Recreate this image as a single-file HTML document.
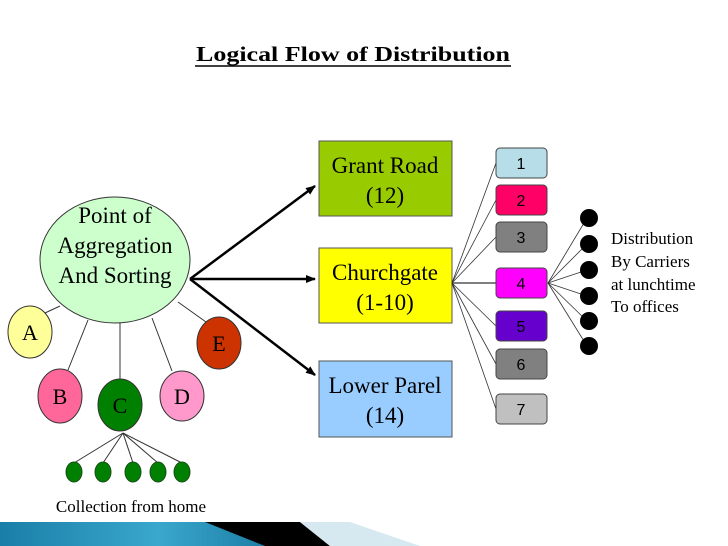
<!DOCTYPE html>
<html><head><style>body{margin:0;background:#fff}svg{display:block}</style></head><body>
<svg width="728" height="546" xmlns="http://www.w3.org/2000/svg" font-family="Liberation Serif, serif">
<defs>
<linearGradient id="bl" x1="0" x2="1"><stop offset="0" stop-color="#1a7fa8"/><stop offset="0.6" stop-color="#3aa7cc"/><stop offset="1" stop-color="#1d7fa6"/></linearGradient>
<marker id="ar" markerWidth="10" markerHeight="8" refX="9" refY="4" orient="auto" markerUnits="userSpaceOnUse"><path d="M0,0 L10,4 L0,8 Z" fill="#000"/></marker>
</defs>
<text x="196" y="61" font-size="21" font-weight="bold" textLength="314" lengthAdjust="spacingAndGlyphs">Logical Flow of Distribution</text>
<line x1="195" y1="66" x2="511" y2="66" stroke="#000" stroke-width="1.5"/>
<g stroke="#333" stroke-width="1">
<line x1="60" y1="306" x2="45" y2="313"/>
<line x1="88" y1="320" x2="68" y2="370"/>
<line x1="120" y1="323" x2="120" y2="379"/>
<line x1="152" y1="318" x2="172" y2="371"/>
<line x1="178" y1="302" x2="206" y2="322"/>
<line x1="123" y1="433" x2="74" y2="463"/>
<line x1="123" y1="433" x2="103" y2="463"/>
<line x1="123" y1="433" x2="133" y2="463"/>
<line x1="123" y1="433" x2="158" y2="463"/>
<line x1="123" y1="433" x2="182" y2="463"/>
</g>
<ellipse cx="115" cy="260" rx="75" ry="63" fill="#ccffcc" stroke="#333"/>
<text font-size="23" text-anchor="middle"><tspan x="115" y="223">Point of</tspan><tspan x="115" y="253">Aggregation</tspan><tspan x="115" y="283">And Sorting</tspan></text>
<ellipse cx="30" cy="332" rx="22" ry="26" fill="#ffff99" stroke="#333"/><text x="30" y="340" font-size="22" text-anchor="middle">A</text>
<ellipse cx="60" cy="396" rx="22" ry="27" fill="#ff6699" stroke="#333"/><text x="60" y="404" font-size="22" text-anchor="middle">B</text>
<ellipse cx="120" cy="405" rx="22" ry="26" fill="#008000" stroke="#333"/><text x="120" y="413" font-size="22" text-anchor="middle">C</text>
<ellipse cx="182" cy="396" rx="22" ry="25" fill="#ff99cc" stroke="#333"/><text x="182" y="404" font-size="22" text-anchor="middle">D</text>
<ellipse cx="219" cy="343" rx="22" ry="26" fill="#cc3300" stroke="#333"/><text x="219" y="351" font-size="22" text-anchor="middle">E</text>
<g fill="#008000" stroke="#1a4d1a"><ellipse cx="74" cy="472" rx="8" ry="10"/><ellipse cx="103" cy="472" rx="8" ry="10"/><ellipse cx="133" cy="472" rx="8" ry="10"/><ellipse cx="158" cy="472" rx="8" ry="10"/><ellipse cx="182" cy="472" rx="8" ry="10"/></g>
<text x="131" y="512" font-size="17" text-anchor="middle">Collection from home</text>
<g stroke="#000" stroke-width="2.5" marker-end="url(#ar)">
<line x1="190" y1="279" x2="315" y2="186"/>
<line x1="190" y1="279" x2="315" y2="279"/>
<line x1="190" y1="279" x2="315" y2="375"/>
</g>
<rect x="319" y="141" width="133" height="75" fill="#99cc00" stroke="#555"/>
<text font-size="23" text-anchor="middle"><tspan x="385" y="173">Grant Road</tspan><tspan x="385" y="203">(12)</tspan></text>
<rect x="319" y="248" width="133" height="75" fill="#ffff00" stroke="#555"/>
<text font-size="23" text-anchor="middle"><tspan x="385" y="280">Churchgate</tspan><tspan x="385" y="310">(1-10)</tspan></text>
<rect x="319" y="361" width="133" height="76" fill="#99ccff" stroke="#555"/>
<text font-size="23" text-anchor="middle"><tspan x="385" y="393">Lower Parel</tspan><tspan x="385" y="423">(14)</tspan></text>
<g stroke="#333" stroke-width="0.8">
<line x1="452" y1="283" x2="496" y2="163"/><line x1="452" y1="283" x2="496" y2="200"/><line x1="452" y1="283" x2="496" y2="237"/>
<line x1="452" y1="283" x2="496" y2="283" stroke-width="1.3"/>
<line x1="452" y1="283" x2="496" y2="326"/><line x1="452" y1="283" x2="496" y2="364"/><line x1="452" y1="283" x2="496" y2="409"/>
<line x1="548" y1="283" x2="587" y2="218"/><line x1="548" y1="283" x2="587" y2="244"/><line x1="548" y1="283" x2="587" y2="270"/><line x1="548" y1="283" x2="587" y2="296"/><line x1="548" y1="283" x2="587" y2="321"/><line x1="548" y1="283" x2="587" y2="346"/>
</g>
<g stroke="#444" font-family="Liberation Sans, sans-serif" font-size="16" text-anchor="middle">
<rect x="496" y="148" width="51" height="30" rx="4" fill="#b7dee8"/><text x="521" y="169" stroke="none">1</text>
<rect x="496" y="185" width="51" height="30" rx="4" fill="#ff0066"/><text x="521" y="206" stroke="none">2</text>
<rect x="496" y="222" width="51" height="30" rx="4" fill="#808080"/><text x="521" y="243" stroke="none">3</text>
<rect x="496" y="268" width="51" height="30" rx="4" fill="#ff00ff"/><text x="521" y="289" stroke="none">4</text>
<rect x="496" y="311" width="51" height="30" rx="4" fill="#6600cc"/><text x="521" y="332" stroke="none">5</text>
<rect x="496" y="349" width="51" height="30" rx="4" fill="#808080"/><text x="521" y="370" stroke="none">6</text>
<rect x="496" y="394" width="51" height="30" rx="4" fill="#c0c0c0"/><text x="521" y="415" stroke="none">7</text>
</g>
<g fill="#000"><circle cx="589" cy="218" r="9"/><circle cx="589" cy="244" r="9"/><circle cx="589" cy="270" r="9"/><circle cx="589" cy="296" r="9"/><circle cx="589" cy="321" r="9"/><circle cx="589" cy="346" r="9"/></g>
<text font-size="17"><tspan x="611" y="244">Distribution</tspan><tspan x="611" y="267">By Carriers</tspan><tspan x="611" y="290">at lunchtime</tspan><tspan x="611" y="312">To offices</tspan></text>
<polygon points="0,522 225,522 265,546 0,546" fill="url(#bl)"/>
<polygon points="205,522 300,522 330,546 265,546" fill="#000"/>
<polygon points="300,522 350,522 420,546 330,546" fill="#d6e8f0"/>
</svg>
</body></html>
